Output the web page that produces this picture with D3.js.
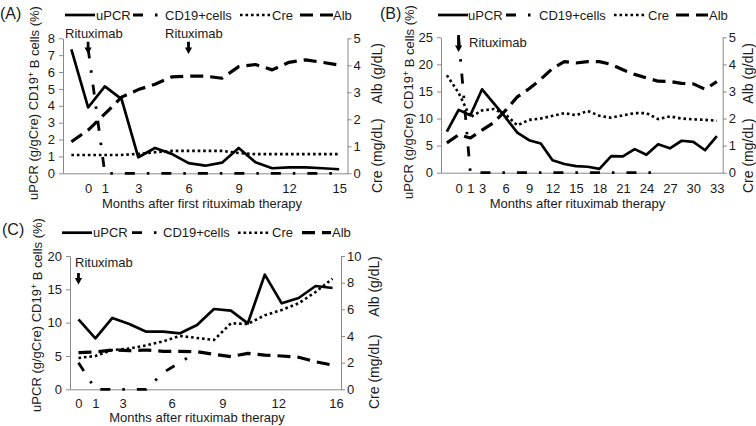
<!DOCTYPE html>
<html><head><meta charset="utf-8">
<script src="https://cdn.jsdelivr.net/npm/d3@7"></script>
<style>
body{margin:0;background:#fff}
svg{display:block}
text{font-family:"Liberation Sans",Arial,sans-serif;fill:#1a1a1a}
</style>
</head><body>
<svg id="c" width="756" height="426"></svg>
<script>
// ---------------- DATA ----------------
const seriesNames = ["uPCR", "CD19+cells", "Cre", "Alb"];

// Panel A (months after first rituximab therapy)
const monthsA = [-1,0,1,2,3,4,5,6,7,8,9,10,11,12,13,14,15];
const tickLabelsA = ["0","1","3","6","9","12","15"];
const uPCR_A = [7.35,3.9,5.15,4.4,0.95,1.5,1.15,0.6,0.45,0.63,1.5,0.65,0.3,0.35,0.35,0.3,0.24];
const cd19_A = [null,7.4,0,0,0,0,0,0,0,0,0,0,0,0,0,0,0];
const cre_A  = [0.68,0.68,0.68,0.68,0.72,0.78,0.83,0.83,0.83,0.83,0.75,0.71,0.71,0.71,0.71,0.71,0.71];
const alb_A  = [1.17,1.6,2.2,2.82,3.1,3.3,3.57,3.6,3.6,3.52,3.95,4.03,3.83,4.11,4.2,4.11,4.01];
const leftTicksA = [0,1,2,3,4,5,6,7,8];
const rightTicksA = [0,1,2,3,4,5];
const rituxMonthsA = [0,6];

// Panel B (months after rituximab therapy)
const monthsB = [-1,0,1,3,4.5,6,7.5,9,10.5,12,13.5,15,16.5,18,19.5,21,22.5,24,25.5,27,28.5,30,31.5,33];
const tickLabelsB = ["0","1","3","6","9","12","15","18","21","24","27","30","33"];
const uPCR_B = [7.6,11.6,10.6,15.4,12.8,10.2,7.4,6.0,5.4,2.3,1.6,1.2,1.1,0.7,3.05,3.0,4.35,3.3,5.25,4.5,5.9,5.7,4.15,6.75];
const cd19_B = [null,25,0,0,0,0,0,0,0,0,0,0,0,0,0,0,0,0,0,null,null,null,null,null];
const cre_B  = [3.6,2.95,2.05,2.3,2.35,2.15,1.75,1.95,2.0,2.1,2.2,2.12,2.28,2.1,2.03,2.12,2.2,2.2,1.98,2.08,2.0,1.97,1.95,1.92];
const alb_B  = [1.1,1.4,1.28,1.57,1.85,2.3,2.8,3.1,3.45,3.85,4.1,4.05,4.1,4.1,4.0,3.8,3.63,3.5,3.38,3.37,3.3,3.28,3.08,3.36];
const leftTicksB = [0,5,10,15,20,25];
const rightTicksB = [0,1,2,3,4,5];
const rituxMonthsB = [0];

// Panel C (months after rituximab therapy; 16 visits)
const visitsC = [0,1,2,3,4,5,6,7,8,9,10,11,12,13,14,15];
const tickLabelsC = ["0","1","3","6","9","12","16"];
const tickVisitC = [0,1,2.6,5.5,8.5,11.8,15.2];
const uPCR_C = [10.5,7.65,10.7,9.8,8.65,8.65,8.4,9.65,12.05,11.8,9.9,17.2,12.9,13.7,15.5,15.2];
const cd19_C = [4.0,0,0,0,0,2.5,4.05,5.6,null,null,null,null,null,null,null,null];
const cre_C  = [2.35,2.5,2.95,3.05,3.3,3.6,4.0,3.85,3.7,4.95,4.9,5.55,5.95,6.45,7.3,8.3];
const alb_C  = [2.75,2.8,2.95,2.9,2.95,2.85,2.85,2.82,2.62,2.45,2.7,2.57,2.5,2.4,2.07,1.82];
const leftTicksC = [0,5,10,15,20];
const rightTicksC = [0,2,4,6,8,10];
const rituxVisitC = [0];

// ---------------- STYLE ----------------
const lineStyle = {
  "uPCR":       {w:2.7, dash:null},
  "CD19+cells": {w:2.8, dash:"10,12,2.5,12"},
  "Cre":        {w:2.6, dash:"2.6,2.9"},
  "Alb":        {w:3.2, dash:"13,7"}
};
const axisColor = "#8a8a8a";
const svg = d3.select("#c");
svg.append("rect").attr("width",756).attr("height",426).attr("fill","#fff");

function drawPanel(p) {
  const g = svg.append("g");
  const n = p.series[0].length;
  const x = d3.scaleLinear().domain([-0.5, n - 0.5]).range([p.left, p.right]);
  const yL = d3.scaleLinear().domain([0, d3.max(p.leftTicks)]).range([p.bottom, p.top]);
  const yR = d3.scaleLinear().domain([0, d3.max(p.rightTicks)]).range([p.bottom, p.top]);
  const fmt = d3.format("d");

  // axes
  const gl = g.append("g").attr("transform", `translate(${p.left},0)`)
    .call(d3.axisLeft(yL).tickValues(p.leftTicks).tickFormat(fmt).tickSize(4).tickSizeOuter(0).tickPadding(4));
  const gr = g.append("g").attr("transform", `translate(${p.right},0)`)
    .call(d3.axisRight(yR).tickValues(p.rightTicks).tickFormat(fmt).tickSize(4).tickSizeOuter(0).tickPadding(2));
  const gb = g.append("g").attr("transform", `translate(0,${p.bottom})`)
    .call(d3.axisBottom(x).tickValues(p.tickPos).tickSize(0).tickSizeOuter(0)
      .tickPadding(p.tickPad).tickFormat((d,i) => p.tickLabels[i]));
  [gl, gr, gb].forEach(a => {
    a.selectAll("path.domain").attr("stroke", axisColor).attr("stroke-width", 1);
    a.selectAll(".tick line").attr("stroke", axisColor);
    a.selectAll("text").attr("font-size", 13).attr("fill", "#1a1a1a")
      .attr("font-family", '"Liberation Sans",Arial,sans-serif');
  });

  // series
  const yFor = [yL, yL, yR, yR];
  p.series.forEach((vals, k) => {
    const st = lineStyle[seriesNames[k]];
    const line = d3.line().defined(d => d != null)
      .x((d, i) => x(i)).y(d => yFor[k](d));
    g.append("path").datum(vals).attr("d", line)
      .attr("fill", "none").attr("stroke", "#000")
      .attr("stroke-width", st.w)
      .attr("stroke-dasharray", st.dash)
      .attr("stroke-linejoin", "round");
  });

  // rituximab annotations
  p.ritux.forEach((r) => {
    g.append("text").attr("x", r.tx).attr("y", r.ty).attr("font-size", 13).text("Rituximab");
    const ax = x(r.idx), y0 = r.y0, y1 = r.y1;
    g.append("path")
      .attr("d", `M${ax-1.4},${y0} L${ax+1.4},${y0} L${ax+1.4},${y1-6.5} L${ax+3.6},${y1-6.5} L${ax},${y1} L${ax-3.6},${y1-6.5} L${ax-1.4},${y1-6.5} Z`)
      .attr("fill", "#000");
  });

  // panel letter
  g.append("text").attr("x", p.letterX).attr("y", p.letterY).attr("font-size", 16).text(p.letter);

  // legend
  p.legend.forEach((L, k) => {
    const st = lineStyle[seriesNames[k]];
    g.append("line").attr("x1", L[0]).attr("x2", L[1]).attr("y1", p.legendY).attr("y2", p.legendY)
      .attr("stroke", "#000").attr("stroke-width", st.w).attr("stroke-dasharray", st.dash);
    g.append("text").attr("x", L[2]).attr("y", p.legendY + 4.5).attr("font-size", 13).text(seriesNames[k]);
  });

  // x title
  g.append("text").attr("x", p.titleX).attr("y", p.titleY).attr("text-anchor", "middle")
    .attr("font-size", 13).text(p.title);

  // left y label
  const tl = g.append("text").attr("transform", `translate(${p.leftLabel[0]},${p.leftLabel[1]}) rotate(-90)`)
    .attr("text-anchor", "middle").attr("dy", "0.35em").attr("font-size", 13);
  tl.append("tspan").text("uPCR (g/gCre) CD19");
  tl.append("tspan").attr("font-size", 9).attr("dy", "-0.45em").text("+");
  tl.append("tspan").attr("dy", "0.45em").text(" B cells (%)");

  // right y label
  g.append("text").attr("transform", `translate(${p.rightLabel[0]},${p.rightLabel[1]}) rotate(-90)`)
    .attr("text-anchor", "start").attr("dy", "0.35em").attr("font-size", 14).text("Cre (mg/dL)");
  g.append("text").attr("transform", `translate(${p.rightLabel[0]},${p.rightLabel[2]}) rotate(-90)`)
    .attr("text-anchor", "end").attr("dy", "0.35em").attr("font-size", 14).text("Alb (g/dL)");
}

drawPanel({
  series: [uPCR_A, cd19_A, cre_A, alb_A],
  left: 63, right: 347.5, top: 38.3, bottom: 173.3,
  leftTicks: leftTicksA, rightTicks: rightTicksA,
  tickPos: tickLabelsA.map(t => monthsA.indexOf(+t)), tickLabels: tickLabelsA, tickPad: 10.5,
  ritux: [
    {idx: monthsA.indexOf(rituxMonthsA[0]), tx: 65, ty: 37.5, y0: 41.7, y1: 54},
    {idx: monthsA.indexOf(rituxMonthsA[1]), tx: 165, ty: 37.5, y0: 41.7, y1: 54}
  ],
  letter: "(A)", letterX: 0, letterY: 19,
  legendY: 15, legend: [[65,95,96],[133,160,165],[240,270,272],[300,333,333]],
  title: "Months after first rituximab therapy", titleX: 202, titleY: 208,
  leftLabel: [33, 103], rightLabel: [377, 193, 43]
});

drawPanel({
  series: [uPCR_B, cd19_B, cre_B, alb_B],
  left: 441, right: 722.7, top: 37.3, bottom: 172.7,
  leftTicks: leftTicksB, rightTicks: rightTicksB,
  tickPos: tickLabelsB.map(t => monthsB.indexOf(+t)), tickLabels: tickLabelsB, tickPad: 11,
  ritux: [
    {idx: monthsB.indexOf(rituxMonthsB[0]), tx: 469, ty: 46.5, y0: 35, y1: 52}
  ],
  letter: "(B)", letterX: 380, letterY: 19,
  legendY: 15, legend: [[438,468,468],[506,533,539],[614,646,648],[676,708,709]],
  title: "Months after rituximab therapy", titleX: 577.5, titleY: 208,
  leftLabel: [408, 102], rightLabel: [748.5, 193, 43]
});

drawPanel({
  series: [uPCR_C, cd19_C, cre_C, alb_C],
  left: 70, right: 341, top: 256, bottom: 389.3,
  leftTicks: leftTicksC, rightTicks: rightTicksC,
  tickPos: tickVisitC, tickLabels: tickLabelsC, tickPad: 9.5,
  ritux: [
    {idx: visitsC.indexOf(rituxVisitC[0]), tx: 75, ty: 266.5, y0: 273, y1: 284.5}
  ],
  letter: "(C)", letterX: 2, letterY: 235,
  legendY: 232.7, legend: [[62,92,93],[132,158,163],[238,270,272],[302,331,332]],
  title: "Months after rituximab therapy", titleX: 197, titleY: 422,
  leftLabel: [36, 315], rightLabel: [374, 409, 256]
});
</script>
</body></html>
